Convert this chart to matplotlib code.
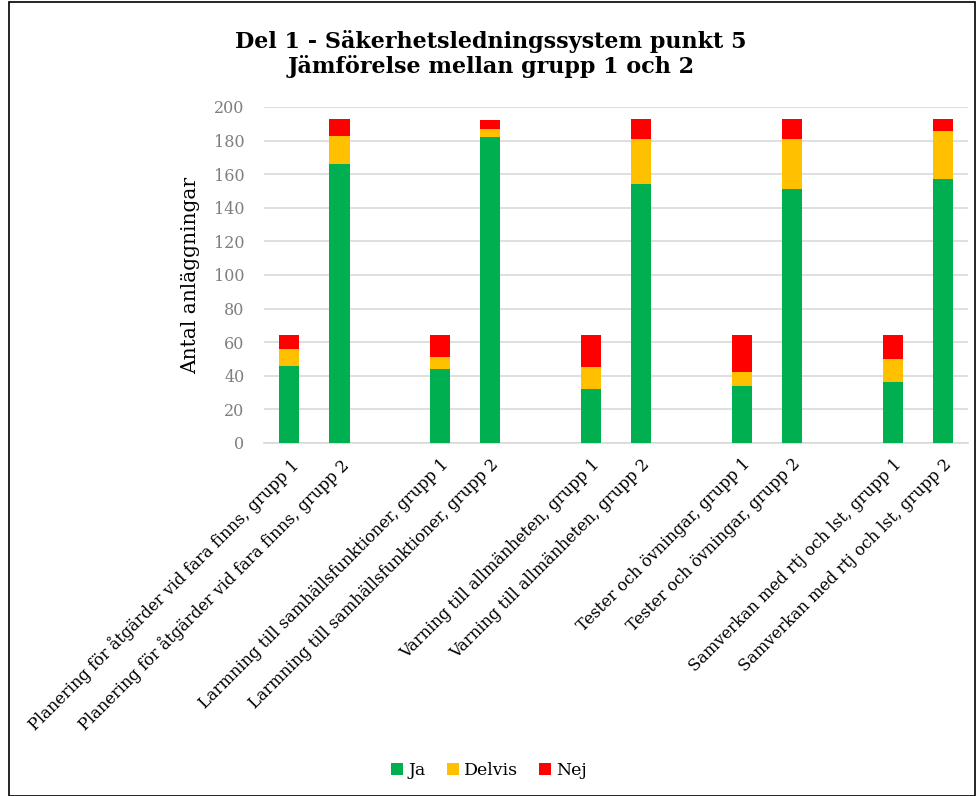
import numpy as np
import matplotlib.pyplot as plt
from matplotlib.patches import Rectangle

# kategorier (tomma platser mellan paren)
labels = ['Planering för åtgärder vid fara finns, grupp 1',
          'Planering för åtgärder vid fara finns, grupp 2', '',
          'Larmning till samhällsfunktioner, grupp 1',
          'Larmning till samhällsfunktioner, grupp 2', '',
          'Varning till allmänheten, grupp 1',
          'Varning till allmänheten, grupp 2', '',
          'Tester och övningar, grupp 1',
          'Tester och övningar, grupp 2', '',
          'Samverkan med rtj och lst, grupp 1',
          'Samverkan med rtj och lst, grupp 2']
ja     = [46, 166, 0, 44, 182, 0, 32, 154, 0, 34, 151, 0, 36, 157]
delvis = [10, 17, 0, 7, 5, 0, 13, 27, 0, 8, 30, 0, 14, 29]
nej    = [8, 10, 0, 13, 5, 0, 19, 12, 0, 22, 12, 0, 14, 7]

plt.rcParams['font.family'] = ['DejaVu Serif']

fig = plt.figure(figsize=(9.78, 7.96), dpi=100)
ax = fig.add_axes([0.27, 0.4435, 0.72, 0.4221])

x = np.arange(len(labels))
ja = np.array(ja); delvis = np.array(delvis); nej = np.array(nej)
w = 0.4
ax.bar(x, ja, w, color='#00B050', label='Ja', zorder=3)
ax.bar(x, delvis, w, bottom=ja, color='#FFC000', label='Delvis', zorder=3)
ax.bar(x, nej, w, bottom=ja + delvis, color='#FF0000', label='Nej', zorder=3)

ax.set_xlim(-0.5, len(labels) - 0.5)
ax.set_ylim(0, 200)
ax.set_yticks(range(0, 201, 20))
ax.yaxis.grid(True, color='#d9d9d9', lw=1.2, zorder=0)
for s in ['top', 'right', 'left']:
	ax.spines[s].set_visible(False)
ax.spines['bottom'].set_color('#d9d9d9')
ax.spines['bottom'].set_linewidth(1.2)
ax.tick_params(axis='both', length=0)
ax.tick_params(axis='y', labelsize=11.5, labelcolor='#7f7f7f', pad=14)

ax.set_xticks(x)
ax.set_xticklabels(labels, rotation=45, ha='right', va='top',
                   rotation_mode='anchor', fontsize=11.7)
ax.tick_params(axis='x', pad=9)
ax.set_ylabel('Antal anläggningar', fontsize=14.5, labelpad=10)

fig.text(0.502, 0.932, 'Del 1 - Säkerhetsledningssystem punkt 5\nJämförelse mellan grupp 1 och 2',
         ha='center', va='center', fontsize=16, fontweight='bold', linespacing=1.15)

fig.legend(loc='center', bbox_to_anchor=(0.5, 0.032), ncol=3, frameon=False,
           fontsize=12.5, handlelength=0.7, handleheight=0.7, handletextpad=0.3,
           columnspacing=1.2)

fig.patches.append(Rectangle((0.009, 0.0), 0.988, 0.998, transform=fig.transFigure,
                             fill=False, edgecolor='black', lw=1.2))

fig.savefig('out.png', dpi=100)
